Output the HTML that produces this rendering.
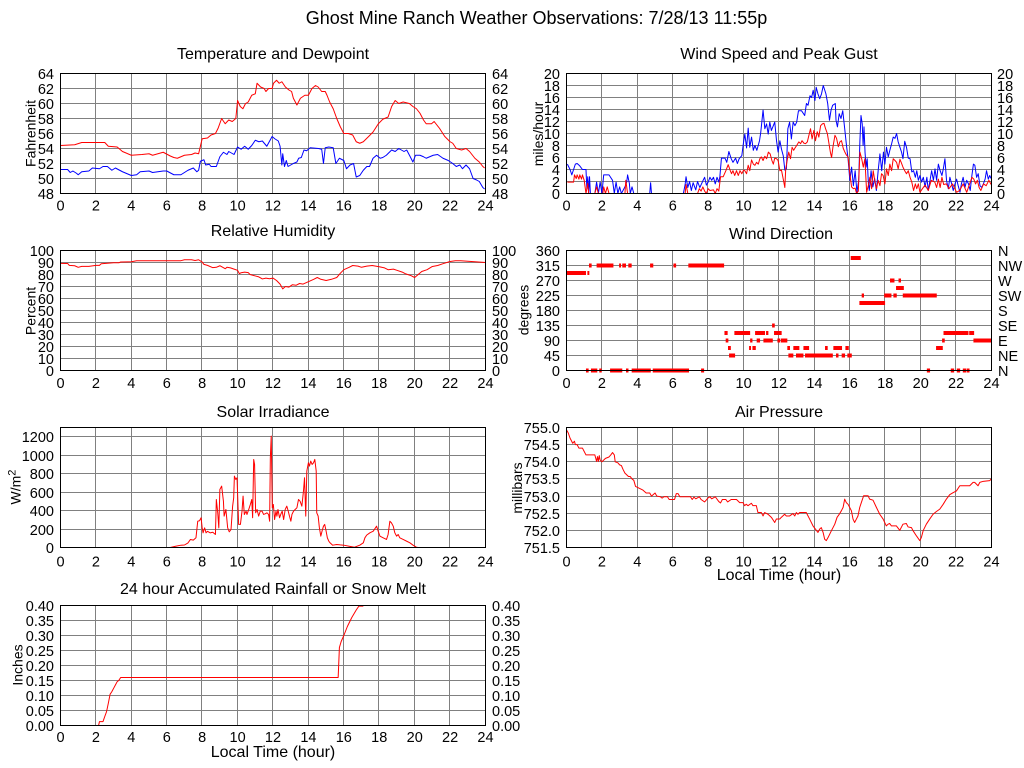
<!DOCTYPE html>
<html>
<head>
<meta charset="utf-8">
<style>
  html,body{margin:0;padding:0;background:#fff;}
  svg{display:block;}
  text{font-family:"Liberation Sans",Arial,sans-serif;fill:#000;}
  .t{font-size:14.5px;}
  .ttl{font-size:16px;}
  .yt{font-size:14px;}
  .d{fill:none;stroke-width:1;vector-effect:non-scaling-stroke;stroke-linejoin:round;}
  .g{fill:none;stroke:#808080;stroke-width:1;}
  .b{fill:none;stroke:#000;stroke-width:1;}
</style>
</head>
<body>
<svg width="1024" height="768" viewBox="0 0 1024 768" xmlns="http://www.w3.org/2000/svg">
<rect x="0" y="0" width="1024" height="768" fill="#fff"/>
<defs>
  <clipPath id="c1" clipPathUnits="userSpaceOnUse"><rect x="60.5" y="73.5" width="425" height="120"/></clipPath>
  <clipPath id="c2" clipPathUnits="userSpaceOnUse"><rect x="566.5" y="73.5" width="425" height="120"/></clipPath>
  <clipPath id="c3" clipPathUnits="userSpaceOnUse"><rect x="60.5" y="250.5" width="425" height="120"/></clipPath>
  <clipPath id="c5" clipPathUnits="userSpaceOnUse"><rect x="60.5" y="427.5" width="425" height="120"/></clipPath>
  <clipPath id="c6" clipPathUnits="userSpaceOnUse"><rect x="566.5" y="427.5" width="425" height="120"/></clipPath>
  <clipPath id="c7" clipPathUnits="userSpaceOnUse"><rect x="60.5" y="605.5" width="425" height="120"/></clipPath>
</defs>

<!-- Main title -->
<text x="536.5" y="24" font-size="18" text-anchor="middle">Ghost Mine Ranch Weather Observations: 7/28/13 11:55p</text>

<!-- Panel titles -->
<g class="ttl" text-anchor="middle">
  <text x="273" y="59">Temperature and Dewpoint</text>
  <text x="779" y="59">Wind Speed and Peak Gust</text>
  <text x="273" y="236">Relative Humidity</text>
  <text x="781" y="239">Wind Direction</text>
  <text x="273" y="417">Solar Irradiance</text>
  <text x="779" y="417">Air Pressure</text>
  <text x="273" y="594">24 hour Accumulated Rainfall or Snow Melt</text>
  <text x="779" y="580">Local Time (hour)</text>
  <text x="273" y="757">Local Time (hour)</text>
</g>

<!-- Y axis titles -->
<g class="yt" text-anchor="middle">
  <text transform="translate(35.5,133.5) rotate(-90)">Fahrenheit</text>
  <text transform="translate(543,134) rotate(-90)">miles/hour</text>
  <text transform="translate(35.5,311) rotate(-90)">Percent</text>
  <text transform="translate(528.5,310) rotate(-90)">degrees</text>
  <text transform="translate(20.5,487) rotate(-90)">W/m<tspan font-size="11" dy="-5">2</tspan></text>
  <text transform="translate(522,488) rotate(-90)">millibars</text>
  <text transform="translate(22.5,665) rotate(-90)">Inches</text>
</g>

<!-- Grids -->
<path class="g" d="M95.5 73.5V193.5M131.5 73.5V193.5M166.5 73.5V193.5M201.5 73.5V193.5M237.5 73.5V193.5M272.5 73.5V193.5M308.5 73.5V193.5M343.5 73.5V193.5M378.5 73.5V193.5M414.5 73.5V193.5M449.5 73.5V193.5M60.5 88.5H485.5M60.5 103.5H485.5M60.5 118.5H485.5M60.5 133.5H485.5M60.5 148.5H485.5M60.5 163.5H485.5M60.5 178.5H485.5"/>
<path class="g" d="M601.5 73.5V193.5M637.5 73.5V193.5M672.5 73.5V193.5M707.5 73.5V193.5M743.5 73.5V193.5M778.5 73.5V193.5M814.5 73.5V193.5M849.5 73.5V193.5M884.5 73.5V193.5M920.5 73.5V193.5M955.5 73.5V193.5M566.5 85.5H991.5M566.5 97.5H991.5M566.5 109.5H991.5M566.5 121.5H991.5M566.5 133.5H991.5M566.5 145.5H991.5M566.5 157.5H991.5M566.5 169.5H991.5M566.5 181.5H991.5"/>
<path class="g" d="M95.5 250.5V370.5M131.5 250.5V370.5M166.5 250.5V370.5M201.5 250.5V370.5M237.5 250.5V370.5M272.5 250.5V370.5M308.5 250.5V370.5M343.5 250.5V370.5M378.5 250.5V370.5M414.5 250.5V370.5M449.5 250.5V370.5M60.5 262.5H485.5M60.5 274.5H485.5M60.5 286.5H485.5M60.5 298.5H485.5M60.5 310.5H485.5M60.5 322.5H485.5M60.5 334.5H485.5M60.5 346.5H485.5M60.5 358.5H485.5"/>
<path class="g" d="M601.5 250.5V370.5M637.5 250.5V370.5M672.5 250.5V370.5M707.5 250.5V370.5M743.5 250.5V370.5M778.5 250.5V370.5M814.5 250.5V370.5M849.5 250.5V370.5M884.5 250.5V370.5M920.5 250.5V370.5M955.5 250.5V370.5M566.5 265.5H991.5M566.5 280.5H991.5M566.5 295.5H991.5M566.5 310.5H991.5M566.5 325.5H991.5M566.5 340.5H991.5M566.5 355.5H991.5"/>
<path class="g" d="M95.5 427.5V547.5M131.5 427.5V547.5M166.5 427.5V547.5M201.5 427.5V547.5M237.5 427.5V547.5M272.5 427.5V547.5M308.5 427.5V547.5M343.5 427.5V547.5M378.5 427.5V547.5M414.5 427.5V547.5M449.5 427.5V547.5M60.5 436.5H485.5M60.5 455.5H485.5M60.5 473.5H485.5M60.5 492.5H485.5M60.5 510.5H485.5M60.5 529.5H485.5"/>
<path class="g" d="M601.5 427.5V547.5M637.5 427.5V547.5M672.5 427.5V547.5M707.5 427.5V547.5M743.5 427.5V547.5M778.5 427.5V547.5M814.5 427.5V547.5M849.5 427.5V547.5M884.5 427.5V547.5M920.5 427.5V547.5M955.5 427.5V547.5M566.5 444.5H991.5M566.5 461.5H991.5M566.5 478.5H991.5M566.5 496.5H991.5M566.5 513.5H991.5M566.5 530.5H991.5"/>
<path class="g" d="M95.5 605.5V725.5M131.5 605.5V725.5M166.5 605.5V725.5M201.5 605.5V725.5M237.5 605.5V725.5M272.5 605.5V725.5M308.5 605.5V725.5M343.5 605.5V725.5M378.5 605.5V725.5M414.5 605.5V725.5M449.5 605.5V725.5M60.5 620.5H485.5M60.5 635.5H485.5M60.5 650.5H485.5M60.5 665.5H485.5M60.5 680.5H485.5M60.5 695.5H485.5M60.5 710.5H485.5"/>

<!-- Temperature / Dewpoint -->
<g clip-path="url(#c1)">
<g transform="translate(60.5,193.5) scale(17.708,-7.5) translate(0,-48)">
<polyline class="d" stroke="#ff0000" points="0,54.4 0.8,54.5 1.2,54.8 2.5,54.8 2.7,54.3 3.2,54.2 3.5,53.6 4,53.1 4.6,53.2 5,53.3 5.2,53.1 5.8,53.5 6.2,53.0 6.4,52.8 6.6,52.7 7,53.1 7.4,53.2 7.6,53.4 7.8,53.3 7.9,54.3 8.0,55.3 8.3,55.4 8.5,55.8 8.75,56 8.9,56.7 9.1,58 9.3,57.3 9.5,57.8 9.7,57.6 9.9,58 10.0,60.4 10.15,59.6 10.3,59.3 10.45,60 10.6,60.2 10.8,61.1 11.0,61.3 11.1,62.7 11.3,62.2 11.5,62 11.6,61.6 11.75,62 11.95,62 12.03,62.7 12.2,63.1 12.35,62.7 12.5,62.9 12.7,62.2 12.9,61.8 13.05,61.6 13.15,60.7 13.35,59.8 13.55,60.7 13.8,61.1 14,61.1 14.2,62 14.4,62.4 14.55,62.2 14.75,61.6 14.95,61.6 15.05,61.1 15.2,60.2 15.4,59.3 15.6,58 15.8,56.9 16,56 16.25,56 16.5,55.8 16.7,54.9 16.9,54.7 17.1,54.9 17.4,55.6 17.65,56.2 17.95,57.3 18.2,57.9 18.5,58.2 18.7,59.6 18.9,60.4 19.1,60 19.35,60.2 19.7,60 19.9,59.6 20.1,59.3 20.3,58.7 20.5,57.8 20.65,57.3 20.95,57.3 21.1,57.6 21.4,56.7 21.7,55.6 22,54.9 22.15,54.7 22.35,54 22.65,53.8 22.9,54 23.1,53.6 23.4,52.7 23.65,52.2 23.85,51.6 23.95,51.4"/>
<polyline class="d" stroke="#0000ff" points="0,51.2 0.4,51.2 0.55,50.8 0.7,51 0.9,50.7 1.0,50.5 1.2,50.9 1.6,51 1.8,51.4 2.2,51.3 2.4,51.6 2.65,51.6 2.9,51.1 3.1,51.4 3.5,50.9 3.8,50.6 4.0,50.4 4.3,50.5 4.5,50.9 5.0,51 5.2,50.8 5.8,51 6.0,51 6.4,50.5 6.8,50.5 7.0,50.8 7.2,51.1 7.5,51.4 7.7,50.9 7.8,51.1 7.9,52.3 8.1,52.5 8.2,51.8 8.4,51.9 8.5,51.6 8.8,51.6 9.0,52.9 9.2,53.5 9.4,53.2 9.5,53.6 9.8,53.2 10.0,54.2 10.2,53.9 10.4,54.3 10.6,53.9 10.8,54.4 11,55.1 11.2,54.9 11.4,55 11.65,54.3 11.95,55.6 12.1,55.3 12.3,55 12.4,54.3 12.5,51.8 12.55,53.3 12.65,51.6 12.75,52.4 12.85,51.6 13.15,52 13.35,52.2 13.45,52.7 13.6,52.8 13.75,53.8 13.9,53.7 14.1,54.1 14.57,54 14.75,53.9 14.85,52 14.95,54.1 15.15,54.2 15.4,54.1 15.55,52 15.75,52.7 16,52.4 16.15,51.3 16.35,51.8 16.55,52 16.7,50.2 16.9,50.4 17.1,51.1 17.3,51.6 17.45,51.6 17.65,52.7 17.85,53.1 18.05,52.7 18.2,52.8 18.4,53.1 18.7,53.8 18.9,53.6 19.1,54 19.4,53.6 19.55,53.8 19.75,52.9 19.9,52.2 20.05,53.1 20.3,53.1 20.5,52.9 20.65,52.7 21.05,53.1 21.3,53.2 21.6,52.7 21.9,52.4 22.15,52 22.35,51.6 22.55,51.8 22.7,51.3 22.9,51.8 23.1,51.3 23.3,50 23.5,49.8 23.65,49.6 23.85,48.8 23.95,48.6"/>
</g></g>

<!-- Wind speed / gust -->
<g clip-path="url(#c2)">
<g transform="translate(566.5,193.5) scale(17.708,-6)">
<polyline class="d" stroke="#0000ff" points="0.05,4.9 0.2,4 0.3,3.1 0.4,4 0.5,4.9 0.6,5 0.75,4.6 0.9,4 1.1,4 1.15,0.8 1.2,2.8 1.25,0 1.3,2.8 1.35,0 1.6,0 1.7,1.9 1.8,0 1.9,1.9 2.0,0 2.1,3.1 2.4,3.1 2.6,2.2 2.7,0 2.8,1.9 2.9,0 3.0,1.1 3.1,0 3.3,1.1 3.4,1.9 3.45,3.1 3.55,1.7 3.6,0 3.7,1.1 3.8,0 4.7,0 4.75,1.8 4.8,0 6.6,0 6.7,1.5 6.75,2.8 6.85,1 6.95,2 7.05,0.5 7.15,1.8 7.3,0.6 7.4,2 7.53,1 7.7,2.1 7.8,2.7 7.9,1.4 8,1.9 8.1,2.7 8.2,2.2 8.3,2.7 8.4,1.6 8.5,2.7 8.6,1.9 8.66,2.8 8.75,5.9 8.95,5.9 9.05,5.2 9.17,7 9.3,5.8 9.4,5.2 9.55,5.9 9.65,5 9.75,5.8 9.9,6.3 10,8.6 10.07,9.9 10.17,7.6 10.26,10.9 10.35,7.7 10.45,9.4 10.55,7.2 10.64,8.0 10.75,7.2 10.9,8.8 10.97,10.2 11.1,13.9 11.2,10.8 11.3,11.6 11.39,9.9 11.48,11.9 11.57,10.5 11.76,11.9 11.86,8.8 11.95,6.9 12.05,8.8 12.14,7.4 12.24,6.3 12.33,3.9 12.42,4.1 12.5,10.8 12.6,11.9 12.7,9.1 12.8,11.9 12.9,11.3 13.0,11.9 13.1,13.8 13.27,13.8 13.45,13 13.55,15 13.64,14.7 13.75,16.3 13.84,16 13.93,17.2 14.03,15.5 14.1,17.7 14.2,16.6 14.3,15.8 14.4,16.6 14.5,18 14.65,16.6 14.75,15 14.85,12.2 14.94,13.9 15.03,14.7 15.18,15 15.22,12.2 15.3,11.1 15.4,13.3 15.5,12.5 15.6,13.8 15.7,11.1 15.8,8.3 15.9,5.8 16,2.2 16.1,4.4 16.2,1.3 16.3,3.8 16.4,0.2 16.5,2.2 16.57,8.8 16.63,13 16.7,11.6 16.75,8 16.8,11.1 16.86,6.8 16.92,4.4 16.98,5.8 17.05,1.6 17.1,0.5 17.2,3.8 17.3,1.1 17.4,2.5 17.5,0.5 17.6,3.8 17.7,6.6 17.8,3.8 17.9,6.9 17.98,4.9 18.07,7.7 18.17,6.1 18.26,7.2 18.36,8.3 18.45,9.4 18.55,9.2 18.64,10 18.73,8.6 18.83,7.7 18.92,6.9 19.0,5.8 19.1,8.7 19.2,7.7 19.3,5.9 19.4,5.8 19.5,3.6 19.6,3.8 19.7,2.7 19.78,3.8 19.87,2.2 19.96,3 20.05,1.9 20.15,2.7 20.25,1.1 20.35,2.7 20.43,0.5 20.53,2.2 20.62,3.8 20.72,2.2 20.81,4.1 20.9,2.2 21,4.9 21.1,3.8 21.2,3 21.28,4.1 21.37,5.8 21.46,2.2 21.56,0.8 21.65,2.7 21.75,1.6 21.84,0.5 21.94,1.6 22.03,2.4 22.12,1.3 22.22,0.2 22.3,1.6 22.4,2.7 22.5,1.0 22.6,2.2 22.7,1.6 22.8,0.5 22.88,2.7 22.98,4.9 23.06,4.7 23.16,2.7 23.25,3.3 23.35,1.3 23.45,1.0 23.54,1.6 23.64,2.4 23.72,3.8 23.82,2.4 23.9,3 23.98,2.5"/>
<polyline class="d" stroke="#ff0000" points="0.05,1.9 0.4,1.9 0.45,3.1 0.55,2.5 0.6,3.1 0.7,2.4 0.75,3.1 0.85,2.4 0.9,3.1 1.0,2.2 1.05,1.1 1.1,0 1.2,1.7 1.25,0 1.6,0 1.7,1.1 1.8,0 2.05,0 2.1,1.1 2.2,0 2.3,1.1 2.4,0 3.3,0 3.35,2.2 3.45,0 6.7,0 6.75,1.5 6.85,0 7.4,0 7.5,0.8 7.6,0.4 7.7,1.1 7.8,0.4 7.9,0 8.0,0.8 8.1,0.5 8.3,0.6 8.4,0 8.5,0.8 8.6,0.4 8.7,2.8 8.85,2.8 9.0,3.8 9.13,4.8 9.25,3.8 9.32,3.3 9.4,3.8 9.5,3 9.6,3.8 9.7,3 9.8,3.8 9.9,3.3 10.0,3.9 10.07,3.8 10.17,3.3 10.26,4.7 10.35,3.8 10.45,5.6 10.55,4.9 10.64,4.7 10.73,5.2 10.83,4.9 10.92,5.8 11.0,6.1 11.1,5.5 11.2,6.2 11.3,5.8 11.4,6.9 11.5,6.6 11.6,5.5 11.68,4.9 11.76,5.9 11.86,5.8 11.95,5.5 12.05,3.8 12.14,3.9 12.24,2.4 12.33,1 12.38,4.1 12.46,5.5 12.55,6.9 12.65,5.8 12.74,7.7 12.83,7.2 12.93,7.7 13.02,8.1 13.12,8.6 13.22,8.3 13.3,8.8 13.4,8.4 13.5,8.3 13.6,8.6 13.69,9.7 13.78,10.8 13.87,9.1 13.97,10.5 14.06,8.8 14.16,10.3 14.25,9.4 14.35,11.3 14.45,11.6 14.54,11.7 14.63,10.8 14.73,10 14.9,6.9 14.97,6 15.05,7.8 15.16,9.7 15.25,9.2 15.35,7.8 15.44,8.6 15.53,8.8 15.63,7.5 15.72,6.9 15.81,6.4 15.9,6.1 16.0,3.3 16.1,1.1 16.2,0.8 16.3,0.9 16.38,0 16.48,0.4 16.57,6.9 16.67,5.8 16.76,4.4 16.85,5.8 16.95,0.2 17.04,1.3 17.13,2.7 17.23,0.8 17.32,3.8 17.42,1.9 17.51,0.8 17.6,2.2 17.7,1.3 17.79,3.3 17.88,3 17.98,1.6 18.07,4.1 18.17,3 18.26,4.9 18.36,3.8 18.45,5.8 18.55,5.5 18.64,5.2 18.73,4.1 18.83,5.7 18.9,5.2 19.0,4.4 19.1,3.8 19.2,3.3 19.3,3.8 19.4,2.7 19.5,1.9 19.6,0.5 19.7,1.6 19.78,0.8 19.87,1.6 19.96,0.2 20.1,0.8 20.25,1.4 20.43,0.5 20.6,2.2 20.8,1.9 20.9,1.0 21.0,2.4 21.1,1.0 21.2,2.7 21.3,1.5 21.45,1.6 21.6,0.8 21.8,1.6 22.03,0.2 22.2,0.5 22.4,1.6 22.6,0.2 22.8,1.9 22.9,2.7 23.0,2.4 23.1,1.6 23.2,2.2 23.3,1.0 23.4,0.5 23.55,1.6 23.7,1.3 23.85,2.2 23.98,1.5"/>
</g></g>

<!-- Humidity -->
<g clip-path="url(#c3)">
<g transform="translate(60.5,370.5) scale(17.708,-1.2)">
<polyline class="d" stroke="#ff0000" points="0,89.3 0.4,89.2 0.5,87.6 0.8,87.3 1.0,86 1.2,86.8 1.6,86.8 2.0,87.6 2.2,87.6 2.3,89 3,89.8 3.3,89.8 3.4,90.4 4,90.6 4.3,91.5 6.8,91.5 7,92.3 7.4,92.3 7.6,91.7 7.8,92.3 8.0,90.4 8.1,88.4 8.3,87.6 8.6,85.7 8.8,86 9,87.3 9.3,84.8 9.4,86 9.6,85.5 9.8,84.5 10,83.5 10.1,80.7 10.2,81.5 10.4,82 10.6,81.6 10.7,80 11,78.8 11.2,78 11.4,76.3 11.6,77 11.8,76.5 12,77 12.2,75 12.4,72 12.55,68 12.7,70 12.9,69.5 13.1,71.5 13.3,71 13.5,72.5 13.7,72 14,74 14.3,76 14.5,77.5 14.7,76 15,75 15.3,76 15.6,77.5 15.8,81 16,84 16.3,86 16.5,87.5 16.8,87 17,86 17.3,87 17.6,87.5 18,86.5 18.3,85.5 18.5,84 18.8,84.5 19,83.5 19.3,82 19.5,80.5 19.8,79 20,77.5 20.2,80 20.4,82.5 20.7,84 21,86.7 21.3,87.5 21.6,89 22,90.8 22.3,91.5 22.6,91.5 23,91 23.5,90.5 24,90"/>
</g></g>

<!-- Wind direction -->
<g transform="translate(566.5,370.5) scale(17.708,-0.333333)" fill="#ff0000">
<rect x="0" y="286.5" width="1.1" height="12"/>
<rect x="1.18" y="286.5" width="0.11" height="12"/>
<rect x="1.27" y="309" width="0.15" height="12"/>
<rect x="1.7" y="309" width="0.95" height="12"/>
<rect x="2.97" y="309" width="0.11" height="12"/>
<rect x="3.15" y="309" width="0.21" height="12"/>
<rect x="3.49" y="309" width="0.19" height="12"/>
<rect x="4.72" y="309" width="0.18" height="12"/>
<rect x="6.04" y="309" width="0.15" height="12"/>
<rect x="6.88" y="309" width="2.02" height="12"/>
<rect x="1.1" y="-6" width="0.15" height="12"/>
<rect x="1.38" y="-6" width="0.36" height="12"/>
<rect x="1.85" y="-6" width="0.14" height="12"/>
<rect x="2.46" y="-6" width="0.69" height="12"/>
<rect x="3.36" y="-6" width="0.14" height="12"/>
<rect x="3.68" y="-6" width="1.08" height="12"/>
<rect x="4.87" y="-6" width="2.05" height="12"/>
<rect x="7.6" y="-6" width="0.17" height="12"/>
<rect x="8.92" y="106.5" width="0.18" height="12"/>
<rect x="9.48" y="106.5" width="0.89" height="12"/>
<rect x="10.65" y="106.5" width="0.56" height="12"/>
<rect x="11.27" y="106.5" width="0.13" height="12"/>
<rect x="11.72" y="106.5" width="0.43" height="12"/>
<rect x="8.99" y="84" width="0.15" height="12"/>
<rect x="10.37" y="84" width="0.13" height="12"/>
<rect x="10.74" y="84" width="0.19" height="12"/>
<rect x="11.12" y="84" width="0.53" height="12"/>
<rect x="11.91" y="84" width="0.15" height="12"/>
<rect x="12.1" y="84" width="0.37" height="12"/>
<rect x="11.61" y="129" width="0.15" height="12"/>
<rect x="9.12" y="61.5" width="0.16" height="12"/>
<rect x="10.31" y="61.5" width="0.11" height="12"/>
<rect x="10.5" y="61.5" width="0.19" height="12"/>
<rect x="12.47" y="61.5" width="0.15" height="12"/>
<rect x="12.81" y="61.5" width="0.34" height="12"/>
<rect x="13.38" y="61.5" width="0.32" height="12"/>
<rect x="14.6" y="61.5" width="0.15" height="12"/>
<rect x="15.07" y="61.5" width="0.49" height="12"/>
<rect x="15.75" y="61.5" width="0.19" height="12"/>
<rect x="20.87" y="61.5" width="0.38" height="12"/>
<rect x="9.18" y="39" width="0.34" height="12"/>
<rect x="12.53" y="39" width="0.28" height="12"/>
<rect x="12.96" y="39" width="0.42" height="12"/>
<rect x="13.47" y="39" width="1.57" height="12"/>
<rect x="15.22" y="39" width="0.14" height="12"/>
<rect x="15.54" y="39" width="0.19" height="12"/>
<rect x="15.86" y="39" width="0.25" height="12"/>
<rect x="16.05" y="331.5" width="0.57" height="12"/>
<rect x="16.54" y="196.5" width="1.45" height="12"/>
<rect x="16.67" y="219" width="0.13" height="12"/>
<rect x="17.94" y="219" width="0.41" height="12"/>
<rect x="18.46" y="219" width="0.19" height="12"/>
<rect x="18.99" y="219" width="1.92" height="12"/>
<rect x="18.27" y="264" width="0.25" height="12"/>
<rect x="18.75" y="264" width="0.14" height="12"/>
<rect x="18.61" y="241.5" width="0.44" height="12"/>
<rect x="20.35" y="-6" width="0.18" height="12"/>
<rect x="21.7" y="-6" width="0.19" height="12"/>
<rect x="22.04" y="-6" width="0.19" height="12"/>
<rect x="22.38" y="-6" width="0.19" height="12"/>
<rect x="22.6" y="-6" width="0.16" height="12"/>
<rect x="21.21" y="84" width="0.15" height="12"/>
<rect x="22.98" y="84" width="1.02" height="12"/>
<rect x="21.29" y="106.5" width="1.41" height="12"/>
<rect x="22.74" y="106.5" width="0.28" height="12"/>
</g>

<!-- Solar -->
<g clip-path="url(#c5)">
<g transform="translate(60.5,547.5) scale(17.708,-0.092308)">
<polyline class="d" stroke="#ff0000" points="0,0 6.2,0 6.5,14 6.8,25 7.0,27 7.2,50 7.34,87 7.5,80 7.65,105 7.75,285 7.85,290 7.94,322 8.0,213 8.05,159 8.14,213 8.22,159 8.3,175 8.45,159 8.6,165 8.75,141 8.8,520 8.88,376 8.94,213 9.0,629 9.1,665 9.2,503 9.24,340 9.34,412 9.44,213 9.53,170 9.63,195 9.72,448 9.78,538 9.82,773 9.9,737 9.97,755 10.06,250 10.16,250 10.25,394 10.31,557 10.38,358 10.48,394 10.53,358 10.63,412 10.72,466 10.8,520 10.85,322 10.91,954 10.96,900 11.02,376 11.1,412 11.19,340 11.28,394 11.38,394 11.47,358 11.56,365 11.66,376 11.75,358 11.81,285 11.85,972 11.9,1207 11.96,430 12.02,466 12.09,303 12.17,394 12.22,340 12.28,412 12.37,322 12.45,365 12.52,394 12.6,303 12.69,412 12.78,448 12.86,394 12.93,340 13.01,285 13.07,358 13.16,394 13.25,412 13.35,430 13.44,520 13.53,502 13.63,448 13.72,610 13.78,755 13.85,340 13.91,828 14.0,918 14.06,882 14.13,936 14.21,900 14.29,918 14.36,954 14.44,828 14.47,376 14.55,340 14.62,213 14.7,123 14.77,177 14.85,231 14.92,250 15.0,177 15.07,105 15.15,69 15.22,51 15.37,25 15.6,32 15.8,28 16.0,25 16.3,14 16.6,3 16.9,25 17.1,51 17.19,105 17.29,134 17.47,159 17.66,177 17.85,231 17.94,177 18.04,123 18.22,105 18.41,87 18.5,141 18.6,285 18.69,267 18.79,231 18.88,159 18.98,123 19.07,141 19.16,105 19.35,87 19.54,69 19.73,51 19.91,25 20.1,3 20.2,0 24,0"/>
</g></g>

<!-- Pressure -->
<g clip-path="url(#c6)">
<g transform="translate(566.5,547.5) scale(17.708,-34.286) translate(0,-751.5)">
<polyline class="d" stroke="#ff0000" points="0,754.93 0.1,754.84 0.2,754.69 0.35,754.54 0.45,754.6 0.5,754.5 0.6,754.5 0.7,754.4 0.9,754.4 1.0,754.3 1.1,754.2 1.6,754.2 1.7,754.01 1.75,754.15 1.8,754.01 1.85,754.18 1.9,754.05 2.0,754.0 2.2,754.1 2.4,754.14 2.5,754.2 2.6,754.27 2.7,754.2 2.75,754.0 2.9,753.97 3.0,753.91 3.1,753.89 3.2,753.77 3.3,753.67 3.5,753.57 3.6,753.57 3.7,753.5 3.8,753.46 3.9,753.28 4.1,753.23 4.3,753.18 4.5,753.09 4.7,753.09 4.8,753.0 5.0,753.09 5.1,753.0 5.3,752.98 5.4,752.94 5.5,752.98 5.7,752.98 5.8,752.9 6.1,752.9 6.2,753.07 6.3,753.07 6.4,752.98 7.0,752.98 7.1,752.9 7.2,752.97 7.3,752.92 7.5,752.98 7.6,752.9 7.8,752.83 8.0,752.95 8.1,752.98 8.2,752.92 8.4,752.98 8.6,752.84 8.7,752.8 8.8,752.9 9.0,752.9 9.1,752.83 9.3,752.9 9.6,752.9 9.78,752.81 9.97,752.81 10.06,752.72 10.15,752.76 10.25,752.72 10.44,752.79 10.53,752.72 10.72,752.72 10.81,752.52 11.0,752.52 11.1,752.42 11.19,752.52 11.38,752.47 11.57,752.38 11.76,752.23 11.85,752.33 12.04,752.33 12.13,752.38 12.32,752.47 12.41,752.42 12.6,752.42 12.79,752.49 12.89,752.42 12.98,752.52 13.07,752.47 13.17,752.52 13.54,752.52 13.73,752.33 13.92,752.13 14.11,752.0 14.2,751.94 14.3,752.04 14.39,752.08 14.49,751.94 14.58,751.74 14.67,751.7 14.77,751.79 14.96,751.99 15.15,752.18 15.28,752.38 15.43,752.49 15.52,752.57 15.62,752.67 15.71,752.91 15.8,752.81 15.9,752.76 15.99,752.67 16.09,752.57 16.18,752.33 16.27,752.23 16.37,752.33 16.46,752.42 16.56,752.67 16.65,752.81 16.78,753.01 17.03,753.01 17.12,752.91 17.31,752.88 17.5,752.67 17.69,752.47 17.88,752.33 18.06,752.13 18.16,752.18 18.25,752.2 18.35,752.13 18.63,752.13 18.82,752.0 19.0,752.18 19.19,752.2 19.29,752.1 19.48,752.08 19.57,751.99 19.76,751.84 19.95,751.7 20.04,751.79 20.14,751.99 20.32,752.18 20.51,752.33 20.7,752.47 20.89,752.55 21.08,752.62 21.27,752.76 21.45,752.91 21.64,753.04 21.83,753.1 22.02,753.15 22.21,753.3 22.77,753.3 22.96,753.4 23.05,753.4 23.24,753.3 23.34,753.4 23.53,753.43 23.9,753.45 24,753.51"/>
</g></g>

<!-- Rainfall -->
<g clip-path="url(#c7)">
<g transform="translate(60.5,725.5) scale(17.708,-300)">
<polyline class="d" stroke="#ff0000" points="0,0 2.15,0 2.2,0.013 2.4,0.013 2.5,0.03 2.6,0.046 2.7,0.074 2.8,0.104 2.9,0.113 3.0,0.124 3.1,0.135 3.2,0.146 3.3,0.151 3.4,0.16 15.68,0.16 15.75,0.26 15.85,0.28 16.0,0.3 16.2,0.33 16.45,0.36 16.7,0.385 16.85,0.398 17.1,0.398"/>
</g></g>

<!-- Borders -->
<rect class="b" x="60.5" y="73.5" width="425" height="120"/>
<rect class="b" x="566.5" y="73.5" width="425" height="120"/>
<rect class="b" x="60.5" y="250.5" width="425" height="120"/>
<rect class="b" x="566.5" y="250.5" width="425" height="120"/>
<rect class="b" x="60.5" y="427.5" width="425" height="120"/>
<rect class="b" x="566.5" y="427.5" width="425" height="120"/>
<rect class="b" x="60.5" y="605.5" width="425" height="120"/>

<!-- Y tick labels -->
<g class="t" text-anchor="end">
  <text x="54" y="79">64</text><text x="54" y="94">62</text><text x="54" y="109">60</text><text x="54" y="124">58</text><text x="54" y="139">56</text><text x="54" y="154">54</text><text x="54" y="169">52</text><text x="54" y="184">50</text><text x="54" y="199">48</text>
  <text x="560" y="79">20</text><text x="560" y="91">18</text><text x="560" y="103">16</text><text x="560" y="115">14</text><text x="560" y="127">12</text><text x="560" y="139">10</text><text x="560" y="151">8</text><text x="560" y="163">6</text><text x="560" y="175">4</text><text x="560" y="187">2</text><text x="560" y="199">0</text>
  <text x="54" y="256">100</text><text x="54" y="268">90</text><text x="54" y="280">80</text><text x="54" y="292">70</text><text x="54" y="304">60</text><text x="54" y="316">50</text><text x="54" y="328">40</text><text x="54" y="340">30</text><text x="54" y="352">20</text><text x="54" y="364">10</text><text x="54" y="376">0</text>
  <text x="560" y="256">360</text><text x="560" y="271">315</text><text x="560" y="286">270</text><text x="560" y="301">225</text><text x="560" y="316">180</text><text x="560" y="331">135</text><text x="560" y="346">90</text><text x="560" y="361">45</text><text x="560" y="376">0</text>
  <text x="54" y="442">1200</text><text x="54" y="461">1000</text><text x="54" y="479">800</text><text x="54" y="498">600</text><text x="54" y="516">400</text><text x="54" y="535">200</text><text x="54" y="553">0</text>
  <text x="560" y="433">755.0</text><text x="560" y="450">754.5</text><text x="560" y="467">754.0</text><text x="560" y="484">753.5</text><text x="560" y="502">753.0</text><text x="560" y="519">752.5</text><text x="560" y="536">752.0</text><text x="560" y="553">751.5</text>
  <text x="54" y="611">0.40</text><text x="54" y="626">0.35</text><text x="54" y="641">0.30</text><text x="54" y="656">0.25</text><text x="54" y="671">0.20</text><text x="54" y="686">0.15</text><text x="54" y="701">0.10</text><text x="54" y="716">0.05</text><text x="54" y="731">0.00</text>
</g>
<g class="t" text-anchor="start">
  <text x="492" y="79">64</text><text x="492" y="94">62</text><text x="492" y="109">60</text><text x="492" y="124">58</text><text x="492" y="139">56</text><text x="492" y="154">54</text><text x="492" y="169">52</text><text x="492" y="184">50</text><text x="492" y="199">48</text>
  <text x="997" y="79">20</text><text x="997" y="91">18</text><text x="997" y="103">16</text><text x="997" y="115">14</text><text x="997" y="127">12</text><text x="997" y="139">10</text><text x="997" y="151">8</text><text x="997" y="163">6</text><text x="997" y="175">4</text><text x="997" y="187">2</text><text x="997" y="199">0</text>
  <text x="492" y="256">100</text><text x="492" y="268">90</text><text x="492" y="280">80</text><text x="492" y="292">70</text><text x="492" y="304">60</text><text x="492" y="316">50</text><text x="492" y="328">40</text><text x="492" y="340">30</text><text x="492" y="352">20</text><text x="492" y="364">10</text><text x="492" y="376">0</text>
  <text x="998" y="256">N</text><text x="998" y="271">NW</text><text x="998" y="286">W</text><text x="998" y="301">SW</text><text x="998" y="316">S</text><text x="998" y="331">SE</text><text x="998" y="346">E</text><text x="998" y="361">NE</text><text x="998" y="376">N</text>
  <text x="492" y="611">0.40</text><text x="492" y="626">0.35</text><text x="492" y="641">0.30</text><text x="492" y="656">0.25</text><text x="492" y="671">0.20</text><text x="492" y="686">0.15</text><text x="492" y="701">0.10</text><text x="492" y="716">0.05</text><text x="492" y="731">0.00</text>
</g>

<!-- X tick labels -->
<g class="t" text-anchor="middle">
  <!-- row 1 left -->
  <text x="60.5" y="210.5">0</text><text x="95.9" y="210.5">2</text><text x="131.3" y="210.5">4</text><text x="166.75" y="210.5">6</text><text x="202.2" y="210.5">8</text><text x="237.6" y="210.5">10</text><text x="273" y="210.5">12</text><text x="308.4" y="210.5">14</text><text x="343.8" y="210.5">16</text><text x="379.25" y="210.5">18</text><text x="414.7" y="210.5">20</text><text x="450.1" y="210.5">22</text><text x="485.5" y="210.5">24</text>
  <!-- row 1 right -->
  <text x="566.5" y="210.5">0</text><text x="601.9" y="210.5">2</text><text x="637.3" y="210.5">4</text><text x="672.75" y="210.5">6</text><text x="708.2" y="210.5">8</text><text x="743.6" y="210.5">10</text><text x="779" y="210.5">12</text><text x="814.4" y="210.5">14</text><text x="849.8" y="210.5">16</text><text x="885.25" y="210.5">18</text><text x="920.7" y="210.5">20</text><text x="956.1" y="210.5">22</text><text x="991.5" y="210.5">24</text>
  <!-- row 2 left -->
  <text x="60.5" y="388">0</text><text x="95.9" y="388">2</text><text x="131.3" y="388">4</text><text x="166.75" y="388">6</text><text x="202.2" y="388">8</text><text x="237.6" y="388">10</text><text x="273" y="388">12</text><text x="308.4" y="388">14</text><text x="343.8" y="388">16</text><text x="379.25" y="388">18</text><text x="414.7" y="388">20</text><text x="450.1" y="388">22</text><text x="485.5" y="388">24</text>
  <!-- row 2 right -->
  <text x="566.5" y="388">0</text><text x="601.9" y="388">2</text><text x="637.3" y="388">4</text><text x="672.75" y="388">6</text><text x="708.2" y="388">8</text><text x="743.6" y="388">10</text><text x="779" y="388">12</text><text x="814.4" y="388">14</text><text x="849.8" y="388">16</text><text x="885.25" y="388">18</text><text x="920.7" y="388">20</text><text x="956.1" y="388">22</text><text x="991.5" y="388">24</text>
  <!-- row 3 left -->
  <text x="60.5" y="566.5">0</text><text x="95.9" y="566.5">2</text><text x="131.3" y="566.5">4</text><text x="166.75" y="566.5">6</text><text x="202.2" y="566.5">8</text><text x="237.6" y="566.5">10</text><text x="273" y="566.5">12</text><text x="308.4" y="566.5">14</text><text x="343.8" y="566.5">16</text><text x="379.25" y="566.5">18</text><text x="414.7" y="566.5">20</text><text x="450.1" y="566.5">22</text><text x="485.5" y="566.5">24</text>
  <!-- row 3 right -->
  <text x="566.5" y="566.5">0</text><text x="601.9" y="566.5">2</text><text x="637.3" y="566.5">4</text><text x="672.75" y="566.5">6</text><text x="708.2" y="566.5">8</text><text x="743.6" y="566.5">10</text><text x="779" y="566.5">12</text><text x="814.4" y="566.5">14</text><text x="849.8" y="566.5">16</text><text x="885.25" y="566.5">18</text><text x="920.7" y="566.5">20</text><text x="956.1" y="566.5">22</text><text x="991.5" y="566.5">24</text>
  <!-- row 4 left -->
  <text x="60.5" y="742">0</text><text x="95.9" y="742">2</text><text x="131.3" y="742">4</text><text x="166.75" y="742">6</text><text x="202.2" y="742">8</text><text x="237.6" y="742">10</text><text x="273" y="742">12</text><text x="308.4" y="742">14</text><text x="343.8" y="742">16</text><text x="379.25" y="742">18</text><text x="414.7" y="742">20</text><text x="450.1" y="742">22</text><text x="485.5" y="742">24</text>
</g>
</svg>
</body>
</html>
